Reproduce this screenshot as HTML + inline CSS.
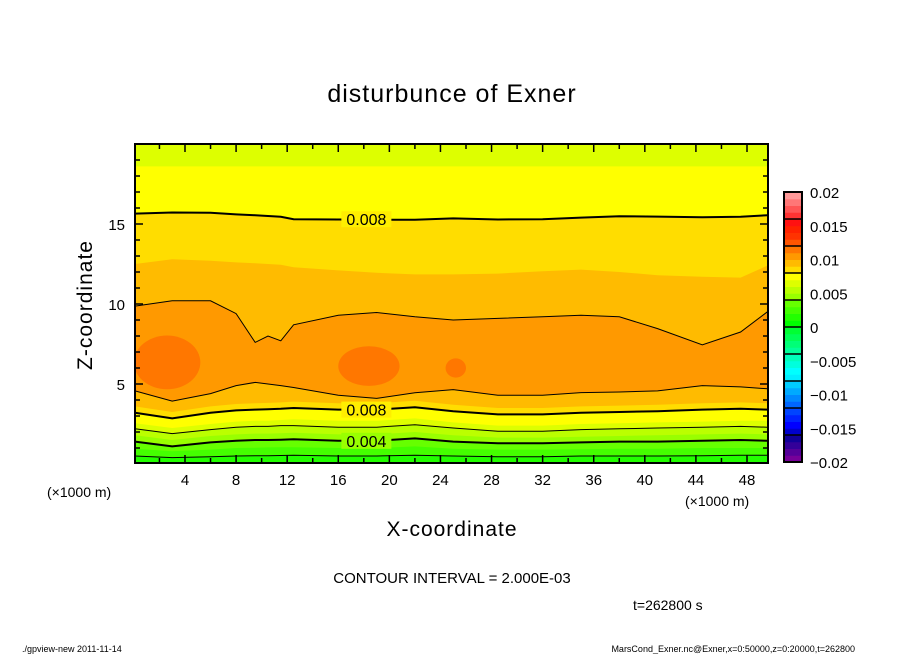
<!DOCTYPE html>
<html><head><meta charset="utf-8"><style>
html,body{margin:0;padding:0;background:#fff;}
svg{display:block;font-family:"Liberation Sans",sans-serif;}
</style></head><body>
<svg id="chart" width="904" height="654" viewBox="0 0 904 654" xmlns="http://www.w3.org/2000/svg">
<text x="452" y="102" font-size="25" text-anchor="middle" letter-spacing="1">disturbunce of Exner</text>
<g id="plot"></g>
<g id="cbar"></g>
<text transform="translate(92,305) rotate(-90)" font-size="21" text-anchor="middle" letter-spacing="1">Z-coordinate</text>
<text x="452" y="536" font-size="21" text-anchor="middle" letter-spacing="1">X-coordinate</text>
<text x="47" y="497" font-size="14">(×1000 m)</text>
<text x="685" y="506" font-size="14">(×1000 m)</text>
<text x="452" y="583" font-size="15" text-anchor="middle">CONTOUR INTERVAL = 2.000E-03</text>
<text x="633" y="610" font-size="14">t=262800 s</text>
<text x="22" y="652" font-size="9">./gpview-new   2011-11-14</text>
<text x="855" y="652" font-size="9" text-anchor="end">MarsCond_Exner.nc@Exner,x=0:50000,z=0:20000,t=262800</text>
</svg>
<script>
const xs = [0,3,6,8,9.5,10.5,11.5,12.5,16,19,22,25,28.5,32,35,38,41,44.5,47.5,49.6];
const c002 = [0.5,0.4,0.45,0.5,0.52,0.52,0.53,0.55,0.5,0.5,0.55,0.5,0.45,0.45,0.5,0.5,0.5,0.52,0.55,0.55];
const c001 = [0.95,0.8,0.9,1.0,1.02,1.04,1.05,1.05,1.0,1.0,1.1,0.95,0.9,0.9,0.92,0.95,0.95,1.0,1.0,1.0];
const c004 = [1.4,1.1,1.35,1.45,1.5,1.5,1.52,1.55,1.45,1.45,1.6,1.4,1.3,1.3,1.35,1.4,1.4,1.45,1.5,1.45];
const c005 = [1.8,1.5,1.75,1.85,1.9,1.9,1.92,1.95,1.85,1.85,2.0,1.8,1.65,1.65,1.7,1.75,1.8,1.85,1.9,1.85];
const c006 = [2.2,1.9,2.15,2.3,2.35,2.35,2.4,2.4,2.3,2.3,2.45,2.25,2.05,2.05,2.15,2.2,2.25,2.3,2.35,2.3];
const c007 = [2.55,2.25,2.5,2.65,2.7,2.7,2.75,2.8,2.7,2.7,2.85,2.6,2.4,2.4,2.5,2.55,2.6,2.65,2.7,2.7];
const c008low = [3.2,2.85,3.2,3.35,3.4,3.42,3.45,3.5,3.4,3.4,3.55,3.3,3.1,3.1,3.2,3.25,3.3,3.4,3.45,3.4];
const c009 = [3.6,3.25,3.6,3.75,3.8,3.82,3.85,3.9,3.8,3.8,3.95,3.7,3.5,3.5,3.6,3.65,3.7,3.8,3.85,3.8];
const cThinLow = [4.57,3.93,4.4,4.9,5.1,5.0,4.9,4.78,4.3,4.1,4.45,4.65,4.3,4.3,4.46,4.5,4.57,4.9,4.82,4.7];
const cThinUp = [9.87,10.2,10.2,9.4,7.6,8.0,7.7,8.7,9.3,9.47,9.2,9.0,9.1,9.2,9.3,9.2,8.46,7.45,8.25,9.51];
const bandUp = [12.5,12.8,12.7,12.6,12.55,12.5,12.45,12.3,12.1,11.95,11.85,11.85,11.9,12.05,12.15,12.0,11.8,11.7,11.65,12.4];
const c008up = [15.65,15.72,15.7,15.6,15.55,15.5,15.45,15.3,15.28,15.26,15.26,15.35,15.28,15.3,15.4,15.48,15.46,15.42,15.45,15.55];
const topBand = [18.6,18.6,18.6,18.6,18.6,18.6,18.6,18.6,18.6,18.6,18.6,18.6,18.6,18.6,18.6,18.6,18.6,18.6,18.6,18.6];
const blobs = [[2.6,6.35,2.6,1.68],[18.4,6.12,2.4,1.24],[25.2,6.0,0.8,0.6]];
const cbColors = ["#770099","#550099","#330099","#110099","#0000cc","#0000ff","#0022ff","#0044ff","#0066ff","#0088ff","#00aaff","#00ccff","#00eeff","#00ffff","#00ffdd","#00ffbb","#00ff99","#00ff77","#00ff55","#00ff33","#00ff00","#22ff00","#44ff00","#66ff00","#99ff00","#bbff00","#ddff00","#ffff00","#ffdd00","#ffbb00","#ff9900","#ff7700","#ff5500","#ff3300","#ff2200","#ff1111","#ff3333","#ff5555","#ff7777","#ff9999"];
const cbTicks = [0.02,0.015,0.01,0.005,0,-0.005,-0.01,-0.015,-0.02];
const cbLabels = ["0.02","0.015","0.01","0.005","0","\u22120.005","\u22120.01","\u22120.015","\u22120.02"];
const xTicks = [4,8,12,16,20,24,28,32,36,40,44,48];
const zTicks = [5,10,15];

const NS="http://www.w3.org/2000/svg";
const L=135,R=768,T=144,B=463;
function xs_(x){return 133.9+x*12.773;}
function zs(z){return 464-z*16;}
function el(tag,attrs,parent){const e=document.createElementNS(NS,tag);for(const k in attrs)e.setAttribute(k,attrs[k]);parent.appendChild(e);return e;}
const plot=document.getElementById('plot');
function pts(arr){return xs.map((x,i)=>Math.min(R,Math.max(L,xs_(x))).toFixed(1)+','+zs(arr[i]).toFixed(1));}
function fillAbove(arr,color,name){
  const p=pts(arr);
  const poly=el('polygon',{points:[L+','+T].concat(p).concat([R+','+T]).join(' '),fill:color},plot);
  
  
}
const base=el('rect',{x:L,y:T,width:R-L,height:B-T,fill:'#22ff00'},plot);


fillAbove(c002,'#44ff00','band-1');
fillAbove(c001,'#66ff00','band-2');
fillAbove(c004,'#99ff00','band-3');
fillAbove(c005,'#bbff00','band-4');
fillAbove(c006,'#ddff00','band-5');
fillAbove(c007,'#ffff00','band-6');
fillAbove(c008low,'#ffdd00','band-7');
fillAbove(c009,'#ffbb00','band-8');
fillAbove(cThinLow,'#ff9900','band-9');
fillAbove(cThinUp,'#ffbb00','band-10');
fillAbove(bandUp,'#ffdd00','band-11');
fillAbove(c008up,'#ffff00','band-12');
fillAbove(topBand,'#ddff00','band-13');
const clip=el('clipPath',{id:'pc'},plot);
el('rect',{x:L,y:T,width:R-L,height:B-T},clip);
blobs.forEach((b,i)=>{
  const e=el('ellipse',{cx:xs_(b[0]),cy:zs(b[1]),rx:b[2]*12.773,ry:b[3]*16,fill:'#ff7700','clip-path':'url(#pc)'},plot);
  
  
});
function line(arr,w,name){
  const e=el('polyline',{points:pts(arr).join(' '),fill:'none',stroke:'#000','stroke-width':w},plot);
  
  
}
line(c002,1,'contour-0.002');
line(c004,2,'contour-0.004');
line(c006,1,'contour-0.006');
line(c008low,2,'contour-0.008-lower');
line(cThinLow,1,'contour-0.01-lower');
line(cThinUp,1,'contour-0.01-upper');
line(c008up,2,'contour-0.008-upper');
function label(txt,x,z,bg,name){
  el('rect',{x:xs_(x)-25,y:zs(z)-8,width:50,height:16,fill:bg},plot);
  const t=el('text',{x:xs_(x),y:zs(z)+6,'font-size':16,'text-anchor':'middle'},plot);
  t.textContent=txt;
  
  
}
label('0.008',18.2,15.3,'#ffee00','contour-label-upper');
label('0.008',18.2,3.4,'#ffee00','contour-label-lower');
label('0.004',18.2,1.45,'#99ff00','contour-label-004');
const fr=el('rect',{x:L,y:T,width:R-L,height:B-T,fill:'none',stroke:'#000','stroke-width':2},plot);


for(let x=2;x<=48;x+=2){
  const major=x%4===0, len=major?8:5;
  el('line',{x1:xs_(x),x2:xs_(x),y1:B,y2:B-len,stroke:'#000','stroke-width':1.5},plot);
  el('line',{x1:xs_(x),x2:xs_(x),y1:T,y2:T+len,stroke:'#000','stroke-width':1.5},plot);
}
for(let z=1;z<=19;z++){
  const major=z%5===0, len=major?8:5;
  el('line',{x1:L,x2:L+len,y1:zs(z),y2:zs(z),stroke:'#000','stroke-width':1.5},plot);
  el('line',{x1:R,x2:R-len,y1:zs(z),y2:zs(z),stroke:'#000','stroke-width':1.5},plot);
}
xTicks.forEach(v=>{
  const t=el('text',{x:xs_(v),y:485,'font-size':15,'text-anchor':'middle'},plot);
  t.textContent=v;
  
  
});
zTicks.forEach(v=>{
  const t=el('text',{x:125,y:zs(v)+6,'font-size':15,'text-anchor':'end'},plot);
  t.textContent=v;
  
  
});
const cb=document.getElementById('cbar');
const CT=192,CB=462,CL=784,CW=18;
function cy(v){return CB-(v+0.02)/0.04*(CB-CT);}
const ch=(CB-CT)/cbColors.length;
cbColors.forEach((c,i)=>{
  const r=el('rect',{x:CL,y:CB-(i+1)*ch,width:CW,height:ch+0.5,fill:c},cb);
  
  
});
for(let i=4;i<cbColors.length;i+=4){el('line',{x1:CL,x2:CL+CW,y1:CB-i*ch,y2:CB-i*ch,stroke:'#000','stroke-width':1.5},cb);}
el('rect',{x:CL,y:CT,width:CW,height:CB-CT,fill:'none',stroke:'#000','stroke-width':2},cb);
cbTicks.forEach((v,i)=>{
  const t=el('text',{x:810,y:cy(v)+6,'font-size':15},cb);
  t.textContent=cbLabels[i];
  
  
});
</script>
</body></html>
